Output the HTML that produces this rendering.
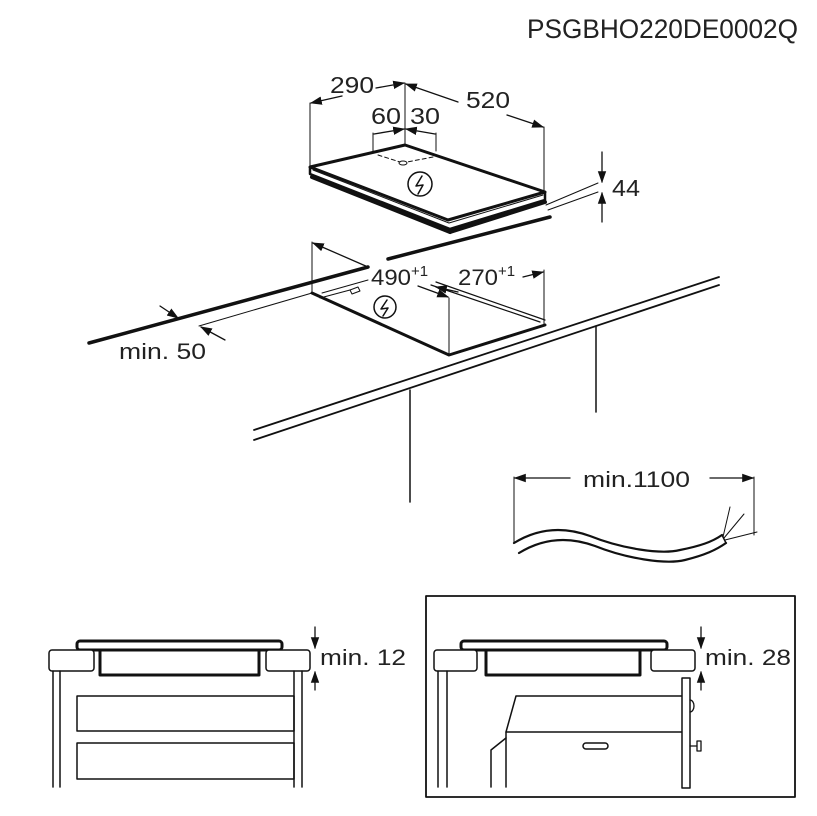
<!DOCTYPE html>
<html><head><meta charset="utf-8"><style>
html,body{margin:0;padding:0;background:#fff;}
svg{display:block;}
text{font-family:"Liberation Sans",Arial,sans-serif;fill:#222;}
</style></head><body>
<svg width="817" height="816" viewBox="0 0 817 816" xmlns="http://www.w3.org/2000/svg">
<defs>
<marker id="a" viewBox="0 0 10 10" refX="9" refY="5" markerWidth="12" markerHeight="12" orient="auto-start-reverse" markerUnits="userSpaceOnUse"><path d="M0,1.5 L10,5 L0,8.5 z" fill="#111"/></marker>
</defs>
<g stroke="#111" fill="none" stroke-linecap="round" stroke-linejoin="round">
<text x="527" y="38" font-size="27" textLength="271" lengthAdjust="spacingAndGlyphs" stroke="none">PSGBHO220DE0002Q</text>

<!-- top hob -->
<polygon points="310,167 405,145 545,192 448,220" stroke-width="3" fill="#fff"/>
<polyline points="310,167 310,174 450,229 545,200 545,192" stroke-width="2.5"/>
<line x1="312" y1="177" x2="450" y2="232" stroke-width="4"/>
<line x1="450" y1="232" x2="545" y2="202" stroke-width="4"/>
<line x1="313" y1="170" x2="449" y2="223" stroke-width="1"/>
<line x1="449" y1="223" x2="543" y2="195" stroke-width="1"/>
<line x1="378" y1="155" x2="400" y2="162" stroke-width="1" stroke-dasharray="4,3"/>
<line x1="433" y1="157" x2="407" y2="162" stroke-width="1" stroke-dasharray="4,3"/>
<ellipse cx="403" cy="163" rx="4" ry="2" stroke-width="1"/>
<circle cx="420" cy="184" r="12" stroke-width="1.5"/>
<path d="M422,176 L416,186 L423,185 L418,194" stroke-width="1.5"/>
<!-- 290 / 520 dims -->
<line x1="310" y1="103" x2="310" y2="167" stroke-width="1"/>
<line x1="405" y1="83" x2="405" y2="145" stroke-width="1"/>
<line x1="544" y1="127" x2="544" y2="191" stroke-width="1"/>
<line x1="342" y1="96" x2="311" y2="103" stroke-width="1.3" marker-end="url(#a)"/>
<line x1="376" y1="88" x2="404" y2="83" stroke-width="1.3" marker-end="url(#a)"/>
<line x1="458" y1="102" x2="406" y2="84" stroke-width="1.3" marker-end="url(#a)"/>
<line x1="507" y1="115" x2="543" y2="127" stroke-width="1.3" marker-end="url(#a)"/>
<text x="330" y="93" font-size="23" stroke="none" textLength="44" lengthAdjust="spacingAndGlyphs">290</text>
<text x="466" y="108" font-size="23" stroke="none" textLength="44" lengthAdjust="spacingAndGlyphs">520</text>
<!-- 60 30 -->
<line x1="373" y1="133" x2="373" y2="151" stroke-width="1"/>
<line x1="436" y1="133" x2="436" y2="151" stroke-width="1"/>
<line x1="374" y1="134" x2="404" y2="129" stroke-width="1.3" marker-end="url(#a)"/>
<line x1="435" y1="134" x2="406" y2="129" stroke-width="1.3" marker-end="url(#a)"/>
<text x="371" y="124" font-size="23" stroke="none" textLength="30" lengthAdjust="spacingAndGlyphs">60</text>
<text x="410" y="124" font-size="23" stroke="none" textLength="30" lengthAdjust="spacingAndGlyphs">30</text>
<!-- 44 -->
<line x1="546" y1="205" x2="598" y2="183" stroke-width="1"/>
<line x1="548" y1="210" x2="598" y2="192" stroke-width="1"/>
<line x1="602" y1="152" x2="602" y2="182" stroke-width="1.3" marker-end="url(#a)"/>
<line x1="602" y1="222" x2="602" y2="193" stroke-width="1.3" marker-end="url(#a)"/>
<text x="612" y="196" font-size="23" stroke="none" textLength="28" lengthAdjust="spacingAndGlyphs">44</text>

<!-- worktop -->
<line x1="89" y1="343" x2="368" y2="267" stroke-width="3.5"/>
<line x1="388" y1="259" x2="550" y2="217" stroke-width="3.5"/>
<line x1="199" y1="326" x2="312" y2="293" stroke-width="1"/>
<line x1="322" y1="293" x2="368" y2="280" stroke-width="1"/>
<polyline points="312,293 449,355 545,325" stroke-width="3"/>
<line x1="320" y1="298" x2="350" y2="290" stroke-width="1"/>
<path d="M350,290 l8,-3 l2,4 l-8,3z" stroke-width="1"/>
<line x1="431" y1="285" x2="540" y2="322" stroke-width="1.2"/>
<line x1="436" y1="282" x2="545" y2="320" stroke-width="1.2"/>
<circle cx="385" cy="307" r="11" stroke-width="1.5"/>
<path d="M387,300 L381,309 L388,308 L383,316" stroke-width="1.5"/>
<line x1="312" y1="242" x2="312" y2="293" stroke-width="1"/>
<line x1="544" y1="270" x2="544" y2="325" stroke-width="1"/>
<line x1="449" y1="298" x2="449" y2="355" stroke-width="1"/>
<line x1="368" y1="267" x2="313" y2="243" stroke-width="1.3" marker-end="url(#a)"/>
<line x1="418" y1="286" x2="448" y2="297" stroke-width="1.3" marker-end="url(#a)"/>
<line x1="523" y1="277" x2="543" y2="272" stroke-width="1.3" marker-end="url(#a)"/>
<line x1="458" y1="292" x2="436" y2="287" stroke-width="1.3" marker-end="url(#a)"/>
<text x="371" y="285" font-size="22" stroke="none" textLength="40" lengthAdjust="spacingAndGlyphs">490</text>
<text x="411" y="276" font-size="15" stroke="none">+1</text>
<text x="458" y="285" font-size="22" stroke="none" textLength="40" lengthAdjust="spacingAndGlyphs">270</text>
<text x="498" y="276" font-size="15" stroke="none">+1</text>
<!-- min 50 -->
<line x1="160" y1="306" x2="178" y2="318" stroke-width="1.3" marker-end="url(#a)"/>
<line x1="225" y1="340" x2="201" y2="327" stroke-width="1.3" marker-end="url(#a)"/>
<text x="119" y="359" font-size="22" stroke="none" textLength="87" lengthAdjust="spacingAndGlyphs">min. 50</text>
<!-- counter front -->
<line x1="254" y1="430" x2="719" y2="277" stroke-width="1.8"/>
<line x1="254" y1="440" x2="719" y2="285" stroke-width="1.8"/>
<line x1="410" y1="390" x2="410" y2="502" stroke-width="1.5"/>
<line x1="596" y1="326" x2="596" y2="412" stroke-width="1.5"/>

<!-- cable -->
<line x1="514" y1="477" x2="514" y2="543" stroke-width="1"/>
<line x1="754" y1="477" x2="754" y2="535" stroke-width="1"/>
<line x1="570" y1="478" x2="515" y2="478" stroke-width="1.3" marker-end="url(#a)"/>
<line x1="710" y1="478" x2="753" y2="478" stroke-width="1.3" marker-end="url(#a)"/>
<text x="583" y="487" font-size="22" stroke="none" textLength="107" lengthAdjust="spacingAndGlyphs">min.1100</text>
<path d="M514,543 C535,530 560,525 590,536 C620,548 660,555 680,550 C700,546 712,542 722,535" stroke-width="2.2"/>
<path d="M519,553 C540,540 565,535 595,546 C625,558 665,565 685,560 C705,555 716,550 726,543" stroke-width="2.2"/>
<line x1="722" y1="535" x2="726" y2="543" stroke-width="1.5"/>
<line x1="723" y1="537" x2="730" y2="507" stroke-width="1"/>
<line x1="724" y1="538" x2="744" y2="514" stroke-width="1"/>
<line x1="725" y1="540" x2="757" y2="532" stroke-width="1"/>

<!-- bottom left -->
<rect x="77" y="641" width="205" height="9" rx="3" fill="#fff" stroke-width="3"/>
<rect x="49" y="650" width="45" height="21" rx="3" fill="#fff" stroke-width="1.5"/>
<rect x="266" y="650" width="44" height="21" rx="3" fill="#fff" stroke-width="1.5"/>
<polyline points="100,651 100,675 259,675 259,651" stroke-width="3"/>
<line x1="53" y1="671" x2="53" y2="787" stroke-width="1.5"/>
<line x1="60" y1="671" x2="60" y2="787" stroke-width="1.5"/>
<line x1="294" y1="671" x2="294" y2="787" stroke-width="1.5"/>
<line x1="302" y1="671" x2="302" y2="787" stroke-width="1.5"/>
<rect x="77" y="696" width="217" height="35" stroke-width="1.5"/>
<rect x="77" y="743" width="217" height="36" stroke-width="1.5"/>
<line x1="315" y1="627" x2="315" y2="648" stroke-width="1.3" marker-end="url(#a)"/>
<line x1="315" y1="690" x2="315" y2="672" stroke-width="1.3" marker-end="url(#a)"/>
<text x="320" y="665" font-size="22" stroke="none" textLength="86" lengthAdjust="spacingAndGlyphs">min. 12</text>

<!-- bottom right -->
<rect x="426" y="596" width="369" height="201" stroke-width="1.8"/>
<rect x="461" y="641" width="206" height="9" rx="3" fill="#fff" stroke-width="3"/>
<rect x="434" y="650" width="43" height="21" rx="3" fill="#fff" stroke-width="1.5"/>
<rect x="651" y="650" width="44" height="21" rx="3" fill="#fff" stroke-width="1.5"/>
<polyline points="486,651 486,675 640,675 640,651" stroke-width="3"/>
<line x1="438" y1="671" x2="438" y2="787" stroke-width="1.5"/>
<line x1="447" y1="671" x2="447" y2="787" stroke-width="1.5"/>
<polyline points="682,696 516,696 506,732 682,732" stroke-width="1.5"/>
<polyline points="506,732 506,787" stroke-width="1.5"/>
<polyline points="506,738 491,750 491,787" stroke-width="1.5"/>
<rect x="583" y="743" width="25" height="6" rx="3" stroke-width="1.5"/>
<rect x="682" y="678" width="8" height="110" stroke-width="1.5" fill="#fff"/>
<path d="M690,700 a4,6 0 0 1 0,12" stroke-width="1.3"/>
<line x1="690" y1="746" x2="697" y2="746" stroke-width="1.3"/>
<rect x="697" y="741" width="4" height="10" stroke-width="1.3"/>
<line x1="701" y1="627" x2="701" y2="648" stroke-width="1.3" marker-end="url(#a)"/>
<line x1="701" y1="690" x2="701" y2="672" stroke-width="1.3" marker-end="url(#a)"/>
<text x="705" y="665" font-size="22" stroke="none" textLength="86" lengthAdjust="spacingAndGlyphs">min. 28</text>
</g>
</svg>
</body></html>
